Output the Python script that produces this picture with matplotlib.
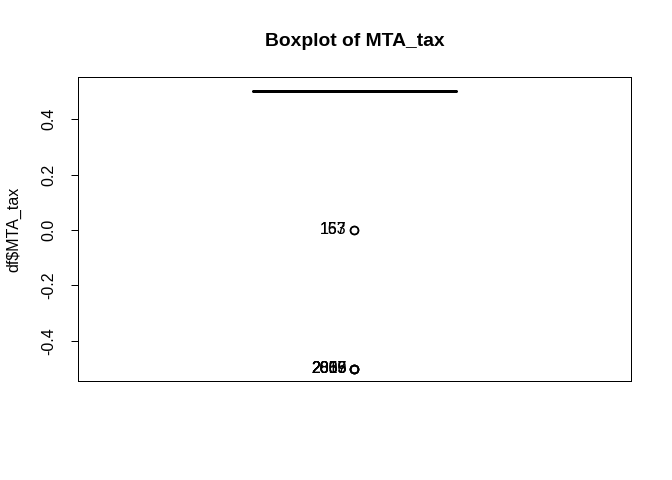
import numpy as np
import matplotlib.pyplot as plt

plt.rcParams['font.family'] = ['Liberation Sans', 'DejaVu Sans']

# distinct values of MTA_tax and how often they occur
mta_levels = [0.5, 0.0, -0.5]
mta_counts = [2990, 2, 5]

# row ids of the flagged outliers
zero_ids = ['157', '163']
neg_ids = ['2005', '2016', '2037', '2855', '2869']

mta_tax = np.repeat(mta_levels, mta_counts)

fig = plt.figure(figsize=(672 / 72, 480 / 72), dpi=72)
ax = fig.add_axes([78 / 672, 1 - 381 / 480, (631 - 78) / 672, (381 - 77) / 480])

ax.boxplot(
    mta_tax,
    positions=[1],
    widths=0.4,
    whis=1.5,
    showcaps=False,
    boxprops=dict(linewidth=1, color='black'),
    whiskerprops=dict(linewidth=1, color='black', linestyle='--'),
    medianprops=dict(linewidth=3, color='black', solid_capstyle='butt'),
    flierprops=dict(marker='o', markerfacecolor='none', markeredgecolor='black',
                    markersize=8, markeredgewidth=1.5),
)

# outlier id labels, to the left of the points
for lab in zero_ids:
    ax.annotate(lab, (1, 0.0), xytext=(-8, 0), textcoords='offset points',
                ha='right', va='center', fontsize=16)
for lab in neg_ids:
    ax.annotate(lab, (1, -0.5), xytext=(-8, 0), textcoords='offset points',
                ha='right', va='center', fontsize=16)

ax.set_xlim(0.46, 1.54)
ax.set_ylim(-0.545, 0.552)
ax.set_xticks([])
ax.set_yticks([-0.4, -0.2, 0.0, 0.2, 0.4])
ax.set_yticklabels(['-0.4', '-0.2', '0.0', '0.2', '0.4'], rotation=90, va='center', fontsize=16)
ax.tick_params(axis='y', length=7, width=1, pad=15)
for s in ax.spines.values():
    s.set_linewidth(1)

ax.set_ylabel(r'df\$MTA_tax', fontsize=16, labelpad=20)
ax.set_title('Boxplot of MTA_tax', fontsize=19.2, fontweight='bold', pad=31)

fig.savefig('out.png', dpi=72)
